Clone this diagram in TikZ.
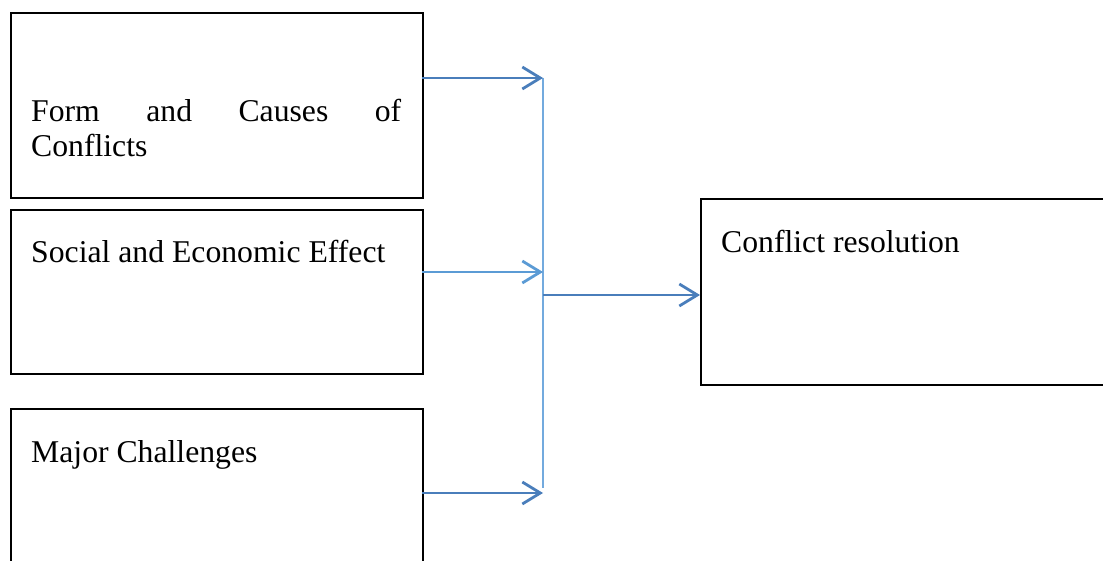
\documentclass[tikz,border=0pt]{standalone}
\usepackage{fontspec}
\setmainfont{Liberation Serif}
\usetikzlibrary{arrows.meta}
\definecolor{arrdark}{RGB}{74,126,187}
\definecolor{arrlight}{RGB}{91,155,213}
\definecolor{vline}{RGB}{115,170,222}
\tikzset{
  box/.style={draw=black, line width=2.2pt, inner sep=0pt, anchor=north west},
  txt/.style={inner sep=0pt, anchor=base west, font=\fontsize{31.7}{35}\selectfont},
  jtxt/.style={txt, text width=370pt, align=justify,
     execute at begin node={\tolerance=10000\hyphenpenalty=10000}},
  barb/.style={-{Straight Barb[length=18pt, width=22pt, line width=2.8pt]}, line width=2.8pt},
}
\begin{document}
\begin{tikzpicture}[x=1pt,y=1pt]
\useasboundingbox (0,0) rectangle (1103,560);
\clip (0,0) rectangle (1103,560);
% boxes (pixel coords: y = 560 - py)
\node[box, minimum width=412pt, minimum height=185pt] (b1) at (10,548) {};
\node[box, minimum width=412pt, minimum height=164pt] (b2) at (10,351) {};
\node[box, minimum width=412pt, minimum height=170pt] (b3) at (10,152) {};
\node[box, minimum width=420pt, minimum height=186pt] (b4) at (700,362) {};
% texts
\node[jtxt] (t1) at (31,438) {Form and Causes of\linebreak Conflicts};
\node[txt] (t2) at (31,297) {Social and Economic Effect};
\node[txt] (t3) at (31,98) {Major Challenges};
\node[txt] (t4) at (721,307) {Conflict resolution};
% junction coordinates
\coordinate (j1) at (543,482);
\coordinate (j2) at (543,288);
\coordinate (j3) at (543,67);
\coordinate (jm) at (543,265);
\coordinate (s1) at (422,482);
\coordinate (s2) at (422,288);
\coordinate (s3) at (422,67);
\coordinate (e4) at (700,265);
\draw[vline, line width=1.6pt] (j1) -- (543,72);
\draw[barb, arrdark] (s1) -- (j1);
\draw[barb, arrlight] (s2) -- (j2);
\draw[barb, arrdark] (s3) -- (j3);
\draw[barb, arrdark] (jm) -- (e4);
\end{tikzpicture}
\end{document}
